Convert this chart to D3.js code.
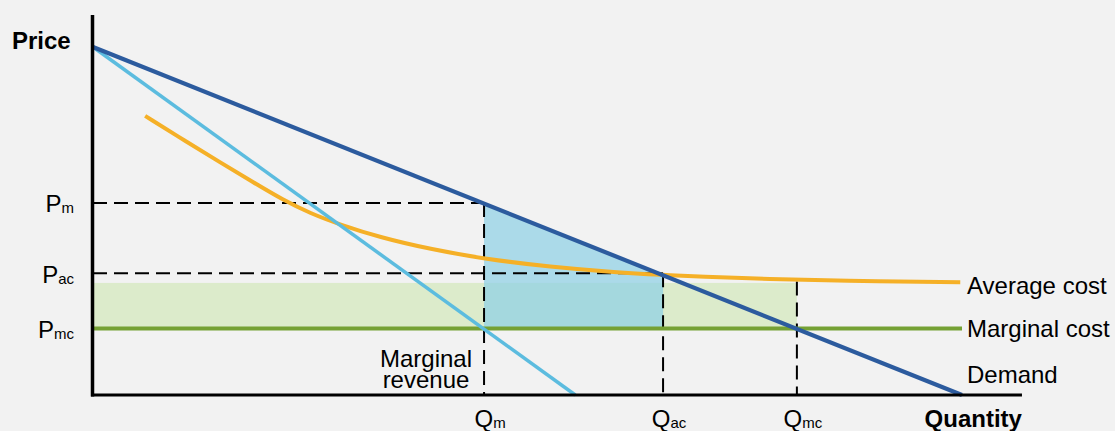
<!DOCTYPE html>
<html>
<head>
<meta charset="utf-8">
<script src="https://cdn.jsdelivr.net/npm/d3@7"></script>
<style>
  html, body { margin: 0; padding: 0; background: #f2f2f2; }
  svg { display: block; }
  text { font-family: "Liberation Sans", Arial, sans-serif; fill: #000; }
</style>
</head>
<body>
<script>
// ---- data ----
const demandQ = [0, 100];
const demandP = [100, 0];
const mrQ = [0, 55.5];
const mrP = [100, 0];
const mcQ = [0, 100];
const mcP = [19.1, 19.1];
const acQ = [6, 10.8, 14.6, 18.4, 21.9, 25, 28.4, 33, 39, 45.1, 52.6, 60.3, 65.6, 69.8, 77.9, 86, 99.8];
const acP = [80.2, 72.7, 66.9, 61.2, 56, 52.2, 49, 45.3, 41.8, 39.1, 36.8, 35.2, 34.5, 34.0, 33.3, 32.8, 32.4];
const qNames = ["m", "ac", "mc"];
const qValues = [45, 65.6, 81];
const pNames = ["m", "ac", "mc"];
const pValues = [55.2, 35, 19.1];
const rectTopP = 32.2;          // top of green band
const qmcTopP = 32.6;           // top of Q_mc dashed guide
const curveNames = ["Average cost", "Marginal cost", "Demand"];
const axisNames = ["Price", "Quantity"];
const axisMax = [106.9, 109.2]; // extent of drawn axes (Q, P)

// ---- layout ----
const W = 1115, H = 431;
const svg = d3.select("body").append("svg").attr("width", W).attr("height", H);
svg.append("rect").attr("width", W).attr("height", H).attr("fill", "#f2f2f2");

const x = d3.scaleLinear().domain([0, 100]).range([93, 962]);
const y = d3.scaleLinear().domain([0, 100]).range([395, 47]);

const col = {
  demand: "#2c5b9e", mr: "#5cbcdf", ac: "#f5b027", mc: "#75a134",
  green: "#dcebcb", blue: "#8fd0e4"
};

const [Qm, Qac, Qmc] = qValues;
const [Pm, Pac, Pmc] = pValues;

// green band
svg.append("rect")
  .attr("x", x(0)).attr("y", y(rectTopP))
  .attr("width", x(Qmc) - x(0)).attr("height", y(Pmc) - y(rectTopP))
  .attr("fill", col.green);

// blue area
const poly = [[Qm, Pmc], [Qm, Pm], [Qac, 100 - Qac], [Qac, Pmc]];
svg.append("path")
  .attr("d", d3.line().x(d => x(d[0])).y(d => y(d[1]))(poly) + "Z")
  .attr("fill", col.blue).attr("fill-opacity", 0.72);

// dashed guides
const dash = "14,7";
const guides = [
  [[0, Pm], [Qm, Pm]],
  [[0, Pac], [Qac, Pac]],
  [[Qm, Pm], [Qm, 0]],
  [[Qac, Pac], [Qac, 0]],
  [[Qmc, qmcTopP], [Qmc, 0]]
];
guides.forEach(g => {
  svg.append("line")
    .attr("x1", x(g[0][0])).attr("y1", y(g[0][1]))
    .attr("x2", x(g[1][0])).attr("y2", y(g[1][1]))
    .attr("stroke", "#000").attr("stroke-width", 2).attr("stroke-dasharray", dash);
});

const zip = (a, b) => a.map((v, i) => [v, b[i]]);
const lineLin = d3.line().x(d => x(d[0])).y(d => y(d[1]));
const lineSmooth = d3.line().x(d => x(d[0])).y(d => y(d[1])).curve(d3.curveBasis);

// marginal cost
svg.append("path").attr("d", lineLin(zip(mcQ, mcP)))
  .attr("fill", "none").attr("stroke", col.mc).attr("stroke-width", 4);
// average cost
svg.append("path").attr("d", lineSmooth(zip(acQ, acP)))
  .attr("fill", "none").attr("stroke", col.ac).attr("stroke-width", 4);
// marginal revenue
svg.append("path").attr("d", lineLin(zip(mrQ, mrP)))
  .attr("fill", "none").attr("stroke", col.mr).attr("stroke-width", 3.5);
// demand
svg.append("path").attr("d", lineLin(zip(demandQ, demandP)))
  .attr("fill", "none").attr("stroke", col.demand).attr("stroke-width", 4.2);

// axes
svg.append("line").attr("x1", x(0) - 0.5).attr("y1", y(axisMax[1]))
  .attr("x2", x(0) - 0.5).attr("y2", y(0) + 1.5)
  .attr("stroke", "#000").attr("stroke-width", 3.5);
svg.append("line").attr("x1", x(0) - 2).attr("y1", y(0))
  .attr("x2", x(axisMax[0])).attr("y2", y(0))
  .attr("stroke", "#000").attr("stroke-width", 3);

// axis titles
svg.append("text").attr("x", 12).attr("y", 49)
  .attr("font-size", 24).attr("font-weight", "bold").text(axisNames[0]);
svg.append("text").attr("x", x(axisMax[0])).attr("y", 427).attr("text-anchor", "end")
  .attr("font-size", 24).attr("font-weight", "bold").text(axisNames[1]);

// P labels
pNames.forEach((n, i) => {
  const t = svg.append("text").attr("x", 74).attr("y", y(pValues[i]) + 9.5)
    .attr("text-anchor", "end").attr("font-size", 24);
  t.append("tspan").text("P");
  t.append("tspan").attr("font-size", 15).attr("dy", 1).text(n);
});
// Q labels
qNames.forEach((n, i) => {
  const t = svg.append("text").attr("x", x(qValues[i]) + 6).attr("y", 427)
    .attr("text-anchor", "middle").attr("font-size", 24);
  t.append("tspan").text("Q");
  t.append("tspan").attr("font-size", 15).attr("dy", 1).text(n);
});

// curve labels
const lx = x(100) + 5;
const labelY = [y(acP[acP.length - 1]) + 12, y(mcP[1]) + 8.5, y(0) - 12];
curveNames.forEach((n, i) => {
  svg.append("text").attr("x", lx).attr("y", labelY[i]).attr("font-size", 24).text(n);
});

// marginal revenue label
const mrl = svg.append("text").attr("text-anchor", "middle").attr("font-size", 24);
mrl.append("tspan").attr("x", 426).attr("y", 366.5).text("Marginal");
mrl.append("tspan").attr("x", 426).attr("y", 388).text("revenue");
</script>
</body>
</html>
